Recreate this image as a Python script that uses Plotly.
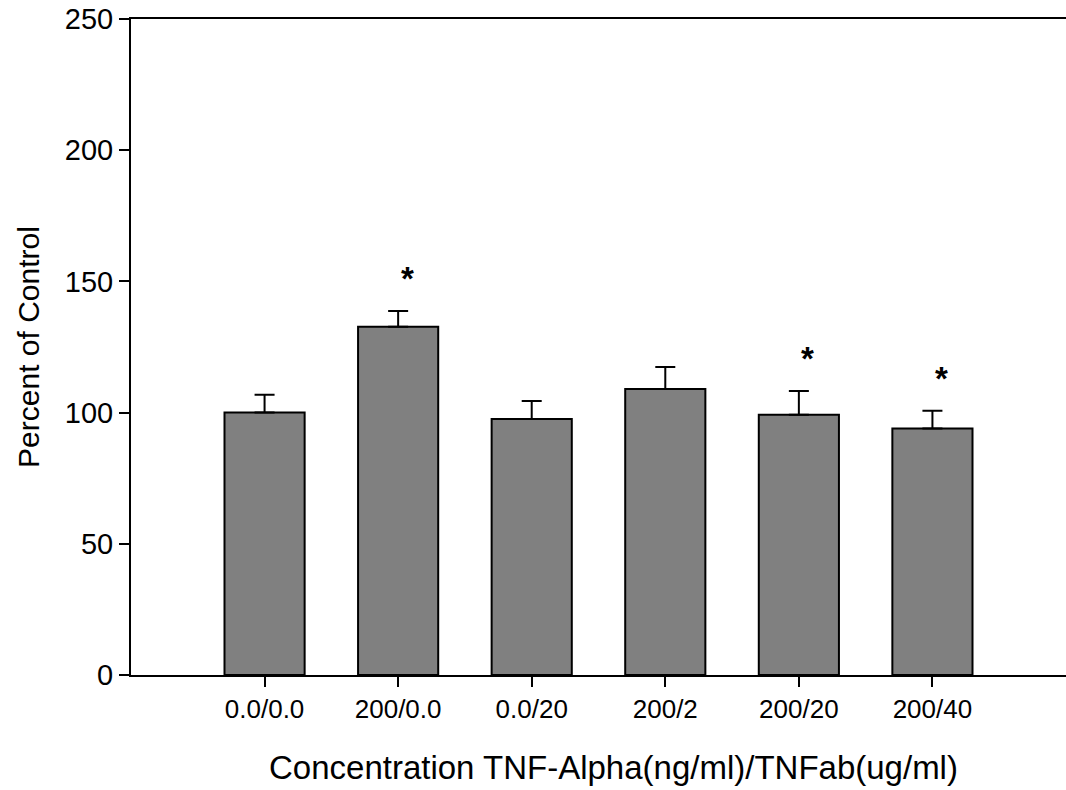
import plotly.graph_objects as go

categories = ["0.0/0.0", "200/0.0", "0.0/20", "200/2", "200/20", "200/40"]
values = [100.0, 132.7, 97.6, 109.0, 99.2, 93.9]
errors = [6.8, 6.0, 6.8, 8.4, 9.0, 6.8]
significant = [False, True, False, False, True, True]
y_ticks = [0, 50, 100, 150, 200, 250]
x_title = "Concentration TNF-Alpha(ng/ml)/TNFab(ug/ml)"
y_title = "Percent of Control"

xpos = list(range(len(categories)))

fig = go.Figure()
fig.add_trace(go.Bar(
    x=xpos, y=values, width=0.6,
    marker=dict(color="#808080", line=dict(color="black", width=2)),
    error_y=dict(type="data", array=errors, arrayminus=[0]*len(errors),
                 symmetric=False, color="black", thickness=2, width=10),
    showlegend=False,
))

for xi, v, e, s in zip(xpos, values, errors, significant):
    if s:
        fig.add_annotation(x=xi, y=v + e, text="<b>*</b>", showarrow=False,
                           yanchor="bottom", xshift=9, yshift=12,
                           font=dict(family="Liberation Sans, Arial", size=33, color="black"))

fig.add_annotation(xref="paper", yref="paper", x=0.516, y=0, yanchor="top",
                   yshift=-72, text=x_title, showarrow=False,
                   font=dict(size=33, color="black"))

font = "Liberation Sans, Arial, sans-serif"
fig.update_layout(
    width=1066, height=790,
    margin=dict(l=131, r=0, t=19, b=115),
    plot_bgcolor="white", paper_bgcolor="white",
    font=dict(family=font, color="black"),
    bargap=0.4,
)
fig.update_xaxes(
    range=[-1, 6], tickmode="array", tickvals=xpos, ticktext=categories,
    showline=True, linecolor="black", linewidth=2, mirror=True,
    ticks="outside", ticklen=10, tickwidth=2, tickcolor="black",
    tickfont=dict(size=26), showgrid=False, zeroline=False,
)
fig.update_yaxes(
    range=[0, 250], tickmode="array", tickvals=y_ticks,
    showline=True, linecolor="black", linewidth=2,
    ticks="outside", ticklen=10, tickwidth=2, tickcolor="black",
    tickfont=dict(size=29), showgrid=False, zeroline=False,
    title=dict(text=y_title, font=dict(size=30), standoff=16),
)

fig.write_html("out.html", config={"displayModeBar": False},
               post_script="document.body.style.margin='0px';")
